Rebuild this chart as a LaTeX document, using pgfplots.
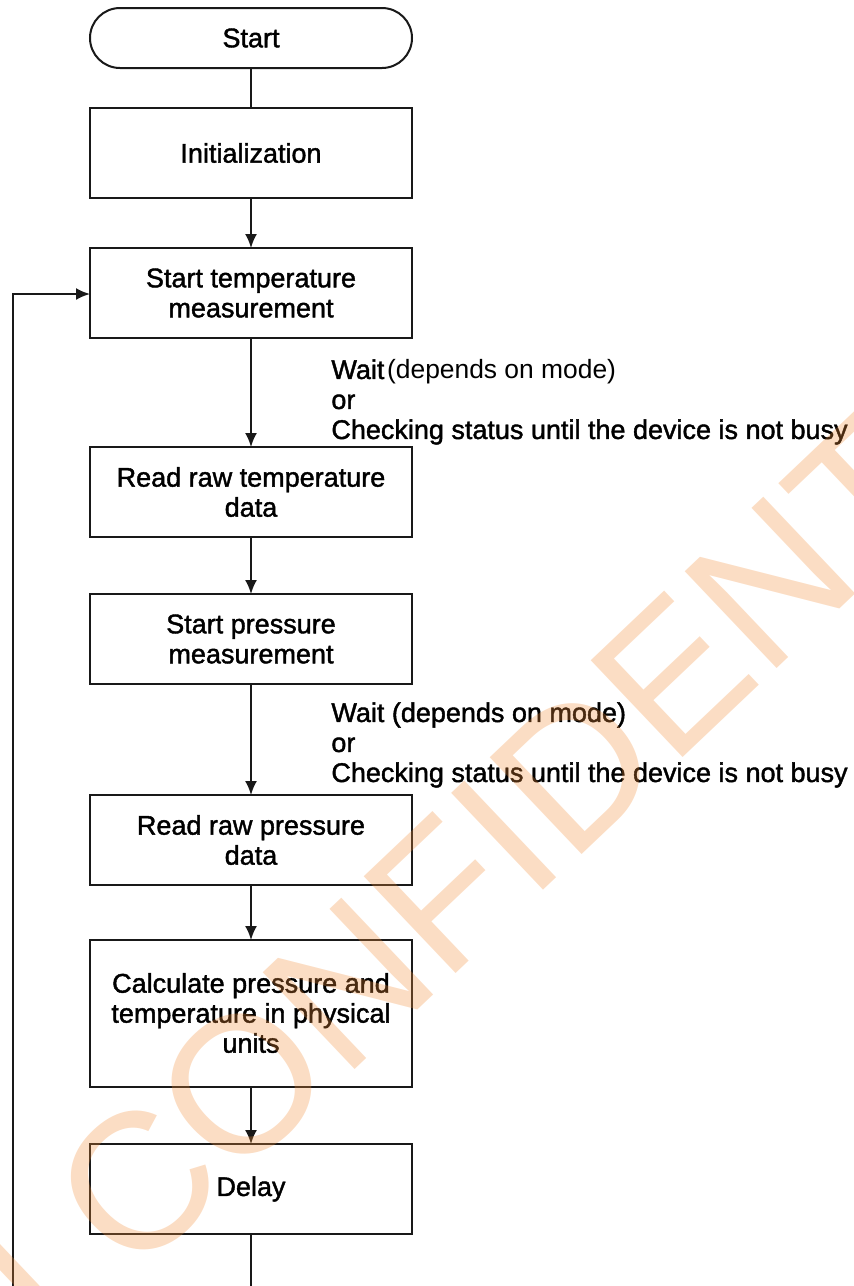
\documentclass[border=0pt]{standalone}
\usepackage{fontspec}
\setmainfont{Liberation Sans}
\newfontfamily\heavy{Liberation Sans}[FakeBold=1.5]
\usepackage{pgfplots}
\pgfplotsset{compat=1.18}
\usetikzlibrary{arrows.meta}
\definecolor{wmcol}{RGB}{242,142,58}
\definecolor{edge}{RGB}{25,25,25}
\newcommand\boxfont{\heavy\fontsize{13.5}{15}\selectfont}
\begin{document}
\begin{tikzpicture}
\begin{axis}[width=427pt,height=643pt,scale only axis,
  xmin=0,xmax=854,ymin=0,ymax=1286,y dir=reverse,
  hide axis,clip=false]
% terminal
\addplot[draw=edge,line width=1pt,rounded corners=15pt] coordinates {(90,8)(412,8)(412,68)(90,68)} -- cycle;
% boxes
\addplot[draw=edge,line width=1pt] coordinates {(90,108)(412,108)(412,198)(90,198)} -- cycle;
\addplot[draw=edge,line width=1pt] coordinates {(90,248)(412,248)(412,338)(90,338)} -- cycle;
\addplot[draw=edge,line width=1pt] coordinates {(90,447)(412,447)(412,537)(90,537)} -- cycle;
\addplot[draw=edge,line width=1pt] coordinates {(90,594)(412,594)(412,684)(90,684)} -- cycle;
\addplot[draw=edge,line width=1pt] coordinates {(90,795)(412,795)(412,885)(90,885)} -- cycle;
\addplot[draw=edge,line width=1pt] coordinates {(90,940)(412,940)(412,1087)(90,1087)} -- cycle;
\addplot[draw=edge,line width=1pt] coordinates {(90,1144)(412,1144)(412,1234)(90,1234)} -- cycle;
% connectors
\addplot[draw=edge,line width=1pt] coordinates {(251,68)(251,108)};
\addplot[draw=edge,line width=1pt,-{Latex[length=7pt,width=6pt]}] coordinates {(251,198)(251,248)};
\addplot[draw=edge,line width=1pt,-{Latex[length=7pt,width=6pt]}] coordinates {(251,338)(251,447)};
\addplot[draw=edge,line width=1pt,-{Latex[length=7pt,width=6pt]}] coordinates {(251,537)(251,594)};
\addplot[draw=edge,line width=1pt,-{Latex[length=7pt,width=6pt]}] coordinates {(251,684)(251,795)};
\addplot[draw=edge,line width=1pt,-{Latex[length=7pt,width=6pt]}] coordinates {(251,885)(251,940)};
\addplot[draw=edge,line width=1pt,-{Latex[length=7pt,width=6pt]}] coordinates {(251,1087)(251,1144)};
\addplot[draw=edge,line width=1pt] coordinates {(251,1234)(251,1290)};
\addplot[draw=edge,line width=1pt,-{Latex[length=7pt,width=6pt]}] coordinates {(12.5,1290)(12.5,294)(90,294)};
% texts
\node[font=\boxfont,align=center] at (axis cs:251,38) {Start};
\node[font=\boxfont,align=center] at (axis cs:251,153) {Initialization};
\node[font=\boxfont,align=center] at (axis cs:251,293) {Start temperature\\measurement};
\node[font=\boxfont,align=center] at (axis cs:251,492) {Read raw temperature\\data};
\node[font=\boxfont,align=center] at (axis cs:251,639) {Start pressure\\measurement};
\node[font=\boxfont,align=center] at (axis cs:251,840) {Read raw pressure\\data};
\node[font=\boxfont,align=center] at (axis cs:251,1013) {Calculate pressure and\\temperature in physical\\units};
\node[font=\boxfont,align=center] at (axis cs:251,1189) {Delay};
\node[font=\boxfont,align=left,anchor=west,inner sep=0pt] at (axis cs:331,402) {Wait\kern0.1em{\normalfont\fontsize{13.2}{15}\selectfont(depends on mode)}\\or\\Checking status until the device is not busy};
\node[font=\boxfont,align=left,anchor=west,inner sep=0pt] at (axis cs:331,745) {Wait (depends on mode)\\or\\Checking status until the device is not busy};
\coordinate (wmorig) at (axis cs:132,1281);
\coordinate (bl) at (axis cs:0,1286);
\coordinate (tr) at (axis cs:854,0);
\end{axis}
\node[rotate=43.5,anchor=base west,inner sep=0pt,text=wmcol,text opacity=0.3,font=\fontsize{97}{97}\selectfont] at (wmorig) {CONFIDENTIAL};
\node[rotate=43.5,anchor=base east,inner sep=0pt,text=wmcol,text opacity=0.3,font=\fontsize{97}{97}\selectfont] at (wmorig) {BOSCH\kern0.278em};
\pgfresetboundingbox
\useasboundingbox (bl) rectangle (tr);
\end{tikzpicture}
\end{document}
